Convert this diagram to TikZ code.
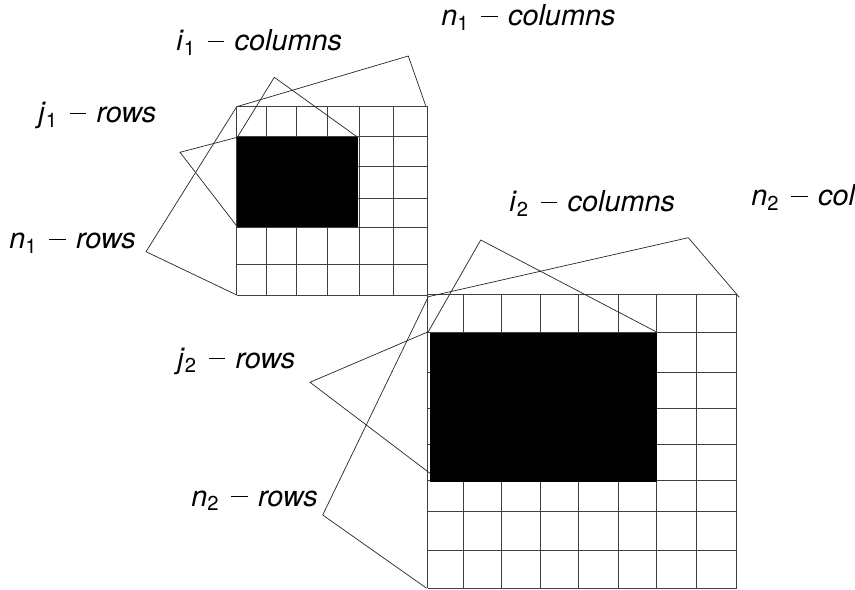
\documentclass[tikz,border=0pt]{standalone}
\usepackage{fontspec}
\setmainfont{TeX Gyre Heros}
\usetikzlibrary{positioning}

\newcommand{\dimlabel}[3]{\textit{#1}\textsubscript{#2}\hspace{.42em}\rule[.3em]{.57em}{.05em}\hspace{.36em}\textit{#3}}

\tikzset{
  gridline/.style={black!75, line width=0.5pt},
  bracket/.style={black!85, line width=0.5pt},
  dimtext/.style={font=\fontsize{20.5}{24}\selectfont, inner sep=0pt, anchor=base west}
}

\begin{document}
\begin{tikzpicture}[x=0.025cm, y=-0.025cm]
\useasboundingbox (0,0) rectangle (855,590);

% first matrix, 6 x 6
\foreach \x in {236.7,266.7,296.7,327.7,359.3,393.3,427.7}
  \draw [gridline] (\x,106.7) -- (\x,295);
\foreach \y in {106.7,136.7,166,198.3,227.7,264.3,295}
  \draw [gridline] (236.7,\y) -- (427.7,\y);
\fill [black] (237.3,137.3) rectangle (357.7,227.3);

% second matrix, 8 x 8
\foreach \x in {427.7,463.3,501,540.7,578.3,618.3,656,696,736.7}
  \draw [gridline] (\x,294.3) -- (\x,588.3);
\foreach \y in {294.3,332.7,372.3,408.3,444.3,480,511.7,550,588.3}
  \draw [gridline] (427.7,\y) -- (736.7,\y);
\fill [black] (430,333.3) rectangle (656.7,481.7);

% corners of matrices and blocks
\coordinate (m1tl) at (236.7,106.7);
\coordinate (m1tr) at (425.7,105.7);
\coordinate (m1bl) at (236.7,295);
\coordinate (b1tl) at (237.3,137.3);
\coordinate (b1tr) at (357.7,137.3);
\coordinate (b1bl) at (237.3,226.7);
\coordinate (m2tl) at (428.3,296.7);
\coordinate (m2tr) at (739.3,297.3);
\coordinate (m2bl) at (426.7,588.3);
\coordinate (b2tl) at (428.3,331.7);
\coordinate (b2tr) at (656,331.7);
\coordinate (b2bl) at (430,473.3);

% apexes of the brackets
\coordinate (n1cols) at (408.3,56);
\coordinate (i1cols) at (274.3,77.3);
\coordinate (j1rows) at (180,152.3);
\coordinate (n1rows) at (146,251.7);
\coordinate (n2cols) at (688.3,237.7);
\coordinate (i2cols) at (480.7,240);
\coordinate (j2rows) at (310,382.3);
\coordinate (n2rows) at (322.7,515);

\draw [bracket] (m1tl) -- (n1cols) -- (m1tr);
\draw [bracket] (b1tl) -- (i1cols) -- (b1tr);
\draw [bracket] (b1tl) -- (j1rows) -- (b1bl);
\draw [bracket] (m1tl) -- (n1rows) -- (m1bl);
\draw [bracket] (m2tl) -- (n2cols) -- (m2tr);
\draw [bracket] (b2tl) -- (i2cols) -- (b2tr);
\draw [bracket] (b2tl) -- (j2rows) -- (b2bl);
\draw [bracket] (m2tl) -- (n2rows) -- (m2bl);

% labels
\node [dimtext] (n1collbl) at (441,26)  {\dimlabel{n}{1}{columns}};
\node [dimtext] (i1collbl) at (176,51)  {\dimlabel{i}{1}{columns}};
\node [dimtext] (j1rowlbl) at (38,123)  {\dimlabel{j}{1}{rows}};
\node [dimtext] (n1rowlbl) at (9,249)   {\dimlabel{n}{1}{rows}};
\node [dimtext] (i2collbl) at (509,212) {\dimlabel{i}{2}{columns}};
\node [dimtext] (n2collbl) at (751,206) {\dimlabel{n}{2}{columns}};
\node [dimtext] (j2rowlbl) at (177,368) {\dimlabel{j}{2}{rows}};
\node [dimtext] (n2rowlbl) at (191,506) {\dimlabel{n}{2}{rows}};
\end{tikzpicture}
\end{document}
